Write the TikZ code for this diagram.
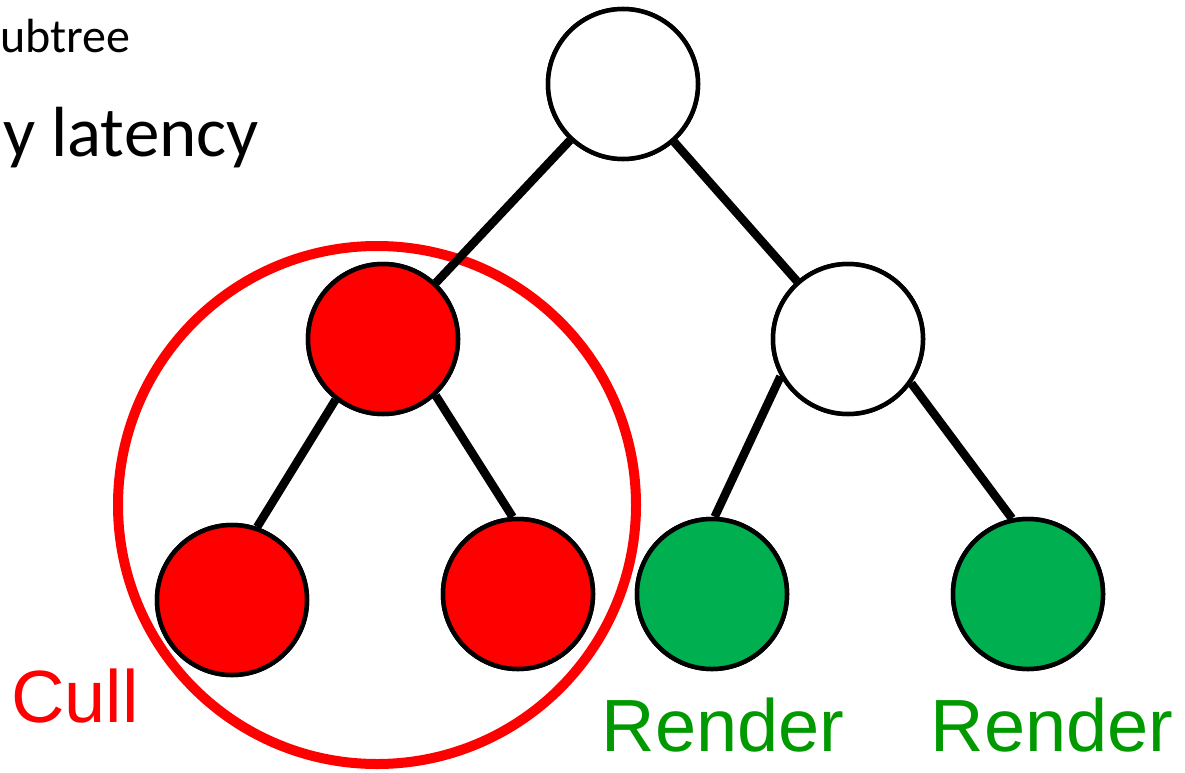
\documentclass[tikz,border=0pt]{standalone}
\usepackage{fontspec}
\setmainfont{Liberation Sans}
\newfontfamily\bodyfont{Carlito}
\definecolor{cullred}{HTML}{FF0000}
\definecolor{leafgreen}{HTML}{00B050}
\definecolor{labelgreen}{HTML}{009900}
\begin{document}
\begin{tikzpicture}[x=1pt,y=-1pt,
  treenode/.style={circle,draw=black,line width=4.5pt,minimum size=150pt,inner sep=0pt},
  plainnode/.style={treenode,fill=white},
  cullnode/.style={treenode,fill=cullred},
  rendernode/.style={treenode,fill=leafgreen},
  branch/.style={draw=black,line width=8.5pt},
  cullring/.style={draw=cullred,line width=10pt},
  slidetext/.style={inner sep=0pt,text=black},
  label/.style={inner sep=0pt,font=\fontsize{74}{80}\selectfont}]
\useasboundingbox (0,0) rectangle (1185,773);

% background bullet text
\node[slidetext,anchor=base west,font=\bodyfont\fontsize{48}{58}\selectfont] (t1) at (0,53) {ubtree};
\node[slidetext,anchor=base east,font=\bodyfont\fontsize{71}{80}\selectfont] (t2) at (259,156) {y latency};

% tree node positions
\coordinate (proot) at (623,84);
\coordinate (plm) at (383,339);
\coordinate (prm) at (848,339);
\coordinate (prl1) at (232,600);
\coordinate (prl2) at (518,594);
\coordinate (pg1) at (712,594);
\coordinate (pg2) at (1028,594);

% culled subtree ring
\node[cullring,circle,minimum size=518pt,inner sep=0pt] (ring) at (377,505) {};

% nodes (placed first so edges can refer to them, redrawn on top below)
\path
  (proot) node[plainnode] (root) {}
  (plm)   node[cullnode] (lm) {}
  (prm)   node[plainnode] (rm) {}
  (prl1)  node[cullnode] (rl1) {}
  (prl2)  node[cullnode] (rl2) {}
  (pg1)   node[rendernode] (g1) {}
  (pg2)   node[rendernode] (g2) {};

% branches
\draw[branch] (root) -- (lm);
\draw[branch] (root) -- (rm);
\draw[branch] (lm.232) -- (rl1.71);
\draw[branch] (lm.313) -- (rl2.94);
\draw[branch] (rm.209) -- (g1.88);
\draw[branch] (rm.325) -- (g2.102);

% nodes drawn over the branches
\path
  (proot) node[plainnode] {}
  (plm)   node[cullnode] {}
  (prm)   node[plainnode] {}
  (prl1)  node[cullnode] {}
  (prl2)  node[cullnode] {}
  (pg1)   node[rendernode] {}
  (pg2)   node[rendernode] {};

% labels
\node[label,text=cullred,anchor=base] (cull) at (75,722) {Cull};
\node[label,text=labelgreen,anchor=base] (r1) at (723,751) {Render};
\node[label,text=labelgreen,anchor=base] (r2) at (1052,751) {Render};
\end{tikzpicture}
\end{document}
